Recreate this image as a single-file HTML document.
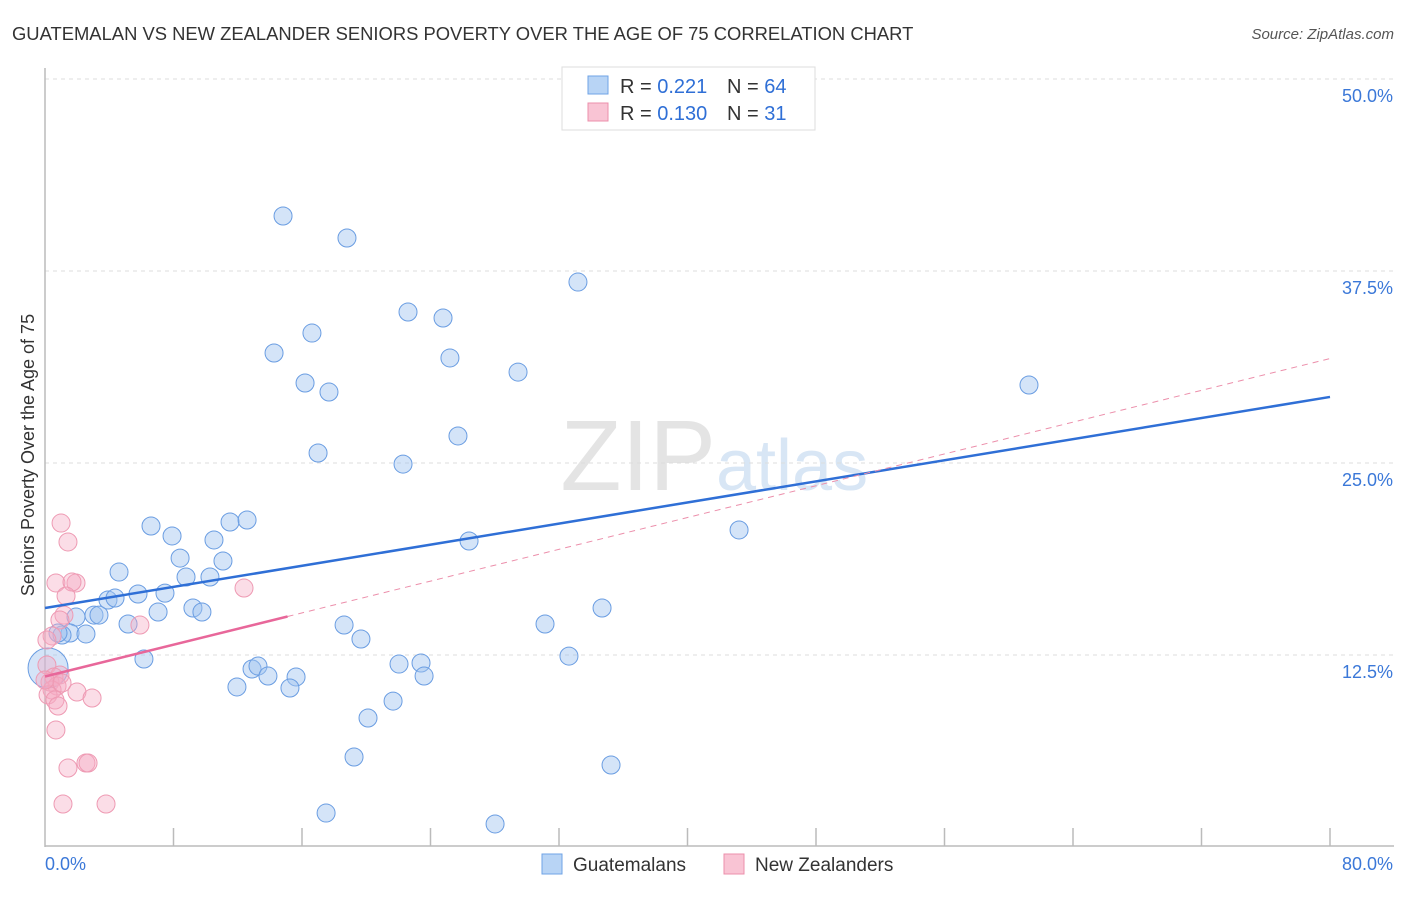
<!DOCTYPE html>
<html><head><meta charset="utf-8"><style>
body{margin:0;background:#fff;font-family:"Liberation Sans",sans-serif;}
svg text{font-family:"Liberation Sans",sans-serif;}
</style></head><body>
<svg width="1406" height="892" id="chart">
<text x="12" y="40" font-size="18.4" fill="#333">GUATEMALAN VS NEW ZEALANDER SENIORS POVERTY OVER THE AGE OF 75 CORRELATION CHART</text>
<text x="1394" y="39" font-size="15" fill="#555" font-style="italic" text-anchor="end">Source: ZipAtlas.com</text>
<text x="716" y="490" font-size="100" fill="#e4e4e4" text-anchor="end" font-family="Liberation Serif">ZIP</text>
<text x="716" y="490" font-size="72" fill="#d8e6f5">atlas</text>
<g id="grid"></g>
<g id="axes"></g>
<g id="pts"></g>
<g id="trend"></g>
<text transform="translate(34,455) rotate(-90)" font-size="18" fill="#333" text-anchor="middle">Seniors Poverty Over the Age of 75</text>
<g>
<rect x="562" y="67" width="253" height="63" fill="#fff" stroke="#ddd"/>
<rect x="588" y="76" width="20" height="18" fill="#b8d4f5" stroke="#6fa3e6"/>
<rect x="588" y="103" width="20" height="18" fill="#f9c4d4" stroke="#ec8fab"/>
<text x="620" y="93" font-size="20" fill="#333">R = <tspan fill="#2f6fd6">0.221</tspan></text>
<text x="727" y="93" font-size="20" fill="#333">N = <tspan fill="#2f6fd6">64</tspan></text>
<text x="620" y="120" font-size="20" fill="#333">R = <tspan fill="#2f6fd6">0.130</tspan></text>
<text x="727" y="120" font-size="20" fill="#333">N = <tspan fill="#2f6fd6"> 31</tspan></text>
</g>
<g>
<rect x="542" y="854" width="20" height="20" fill="#b8d4f5" stroke="#6fa3e6"/>
<text x="573" y="871" font-size="19" fill="#333">Guatemalans</text>
<rect x="724" y="854" width="20" height="20" fill="#f9c4d4" stroke="#ec8fab"/>
<text x="755" y="871" font-size="19" fill="#333">New Zealanders</text>
</g>
</svg>
<script>
const yTicks=[12.5,25,37.5,50];
const yTickLabels=["12.5%","25.0%","37.5%","50.0%"];
const xTickLabels=["0.0%","80.0%"];
const blueX=[14.82,18.80,33.18,22.60,24.78,16.62,14.26,25.21,16.19,29.45,17.68,61.26,25.71,17.00,22.29,6.60,7.91,11.52,12.58,10.52,43.21,26.40,8.41,11.08,4.61,8.78,10.27,3.92,4.36,5.79,7.47,7.04,9.21,9.77,3.05,3.36,1.93,5.17,1.56,34.68,31.13,18.62,19.67,1.06,0.81,2.55,6.16,12.89,13.26,13.88,15.63,11.95,15.25,22.04,23.41,23.60,32.62,21.67,20.11,19.24,35.24,17.50,28.02,0.19];
const blueY=[41.08,39.65,36.78,34.83,34.44,33.46,32.16,31.84,30.21,30.92,29.62,30.08,26.76,25.65,24.93,20.90,20.25,21.16,21.29,19.99,20.64,19.92,18.81,18.62,17.90,17.58,17.58,16.08,16.21,16.47,16.53,15.30,15.56,15.30,15.10,15.10,14.97,14.52,13.93,15.56,14.52,14.45,13.54,13.80,13.93,13.87,12.24,11.59,11.78,11.13,11.07,10.42,10.35,11.91,11.98,11.13,12.43,9.50,8.40,5.86,5.34,2.21,1.50,11.65];
const pinkX=[1.00,1.43,0.68,1.93,1.68,1.31,1.18,0.93,0.44,0.12,12.39,5.91,0.12,0.93,0.56,0.31,0.75,0.44,0.19,0.62,1.99,2.93,0.81,0.68,1.43,2.55,2.68,1.12,3.80,0.0,1.06];
const pinkY=[21.09,19.86,17.19,17.19,17.25,16.34,15.10,14.78,13.74,13.48,16.86,14.45,11.85,11.20,11.07,10.74,10.48,10.22,9.90,9.57,10.09,9.70,9.18,7.62,5.14,5.47,5.47,2.80,2.80,10.87,10.68];
const blueTrend=[15.56,29.3];
const pinkTrend=[11.1,31.8];
const X=v=>45+v/80*1285, Y=v=>847-v/12.5*192;
const NS="http://www.w3.org/2000/svg";
function mk(p,tag,a){const e=document.createElementNS(NS,tag);for(const k in a)e.setAttribute(k,a[k]);p.appendChild(e);return e;}
const grid=document.getElementById('grid'),axes=document.getElementById('axes'),pts=document.getElementById('pts'),tr=document.getElementById('trend');
yTicks.forEach((t,i)=>{
 const l=mk(grid,'line',{x1:45,x2:1394,y1:Y(t),y2:Y(t),stroke:'#ddd','stroke-dasharray':'4,4'});
 
 
 const tx=mk(grid,'text',{x:1393,y:Y(t)+23,'font-size':18,fill:'#3b78d8','text-anchor':'end'});
 tx.textContent=yTickLabels[i];
 
 
});
mk(axes,'line',{x1:45,x2:45,y1:68,y2:847,stroke:'#bbb','stroke-width':1.5});
mk(axes,'line',{x1:45,x2:1394,y1:846,y2:846,stroke:'#bbb','stroke-width':1.5});
for(let i=1;i<=10;i++){mk(axes,'line',{x1:X(i*8),x2:X(i*8),y1:828,y2:846,stroke:'#bbb','stroke-width':1.5});}
const xl0=mk(axes,'text',{x:45,y:870,'font-size':18,fill:'#3b78d8'});xl0.textContent=xTickLabels[0];


const xl1=mk(axes,'text',{x:1393,y:870,'font-size':18,fill:'#3b78d8','text-anchor':'end'});xl1.textContent=xTickLabels[1];


blueX.forEach((x,i)=>{
 const c=mk(pts,'circle',{cx:X(x),cy:Y(blueY[i]),r:i==63?20:9,fill:'rgba(160,196,240,0.45)',stroke:'#6a9de2','stroke-width':1});
 
 
});
pinkX.forEach((x,i)=>{
 const c=mk(pts,'circle',{cx:X(x),cy:Y(pinkY[i]),r:9,fill:'rgba(245,170,195,0.4)',stroke:'#ee9ab3','stroke-width':1});
 
 
});
const bl=mk(tr,'line',{x1:X(0),y1:Y(blueTrend[0]),x2:X(80),y2:Y(blueTrend[1]),stroke:'#2f6fd6','stroke-width':2.5});


const pv=x=>pinkTrend[0]+(pinkTrend[1]-pinkTrend[0])*x/80;
const pd=mk(tr,'line',{x1:X(15.1),y1:Y(pv(15.1)),x2:X(80),y2:Y(pv(80)),stroke:'#ec8fab','stroke-width':1,'stroke-dasharray':'6,5'});


const ps=mk(tr,'line',{x1:X(0),y1:Y(pv(0)),x2:X(15.1),y2:Y(pv(15.1)),stroke:'#e8679a','stroke-width':2.5});


</script>
</body></html>
